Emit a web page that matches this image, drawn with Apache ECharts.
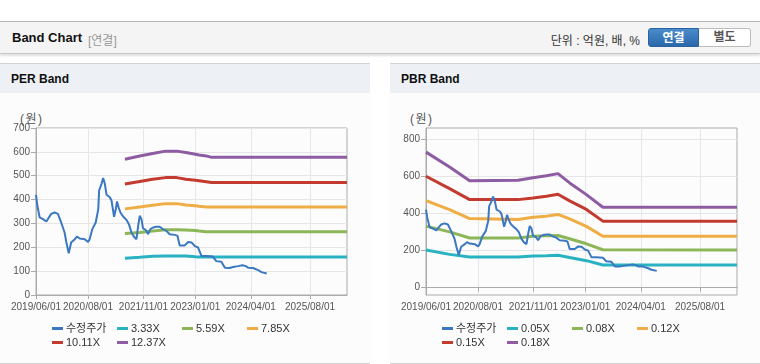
<!DOCTYPE html>
<html>
<head>
<meta charset="utf-8">
<script src="https://cdn.jsdelivr.net/npm/echarts@6/dist/echarts.min.js"></script>
<style>
  html, body { margin:0; padding:0; background:#fff; width:760px; height:364px; overflow:hidden;
    font-family:"Liberation Sans","Noto Sans CJK KR",sans-serif; }
  .topbar { position:absolute; left:0; top:21px; width:760px; height:31px; background:#f4f4f4;
    border-top:1px solid #b5b5b5; border-bottom:1px solid #c8c8c8; box-shadow:0 2px 2px rgba(0,0,0,0.12); }
  .title { position:absolute; left:12px; top:8px; font-size:13px; font-weight:bold; color:#111; }
  .sub { position:absolute; left:88px; top:9px; font-size:12px; color:#999; }
  .unit { position:absolute; right:120px; top:9px; font-size:12px; color:#333; }
  .btn1 { position:absolute; left:648px; top:6px; width:51px; height:19px; border-radius:3px 0 0 3px;
    background:linear-gradient(#4a8bcb,#2a68aa); color:#fff; font-size:12px; font-weight:bold;
    text-align:center; line-height:19px; border:1px solid #2a62a0; box-sizing:border-box; }
  .btn2 { position:absolute; left:699px; top:6px; width:52px; height:19px; border-radius:0 3px 3px 0;
    background:#fff; color:#555; font-size:12px; font-weight:bold; text-align:center; line-height:17px;
    border:1px solid #bdbdbd; border-left:none; box-sizing:border-box; }
  .panel { position:absolute; top:63px; width:370px; height:299px; background:#fcfcfc;
    border-top:1px solid #d3d3d3; border-bottom:1px solid #d3d3d3; }
  .phead { position:absolute; left:0; top:0; width:100%; height:29px; background:#edf1f6; }
  .ptitle { position:absolute; left:11px; top:8px; font-size:12px; font-weight:bold; color:#111; }
  .unitw { position:absolute; top:45px; font-size:12px; color:#555; letter-spacing:1.5px; }
  .chart { position:absolute; top:0; width:370px; height:364px; }
</style>
</head>
<body>
<div class="topbar">
  <div class="title">Band Chart</div>
  <div class="sub">[연결]</div>
  <div class="unit">단위 : 억원, 배, %</div>
  <div class="btn1">연결</div>
  <div class="btn2">별도</div>
</div>
<div class="panel" style="left:0">
  <div class="phead"><div class="ptitle">PER Band</div></div>
  <div class="unitw" style="left:20px">(원)</div>
</div>
<div class="panel" style="left:390px">
  <div class="phead"><div class="ptitle">PBR Band</div></div>
  <div class="unitw" style="left:20px">(원)</div>
</div>
<div id="per" class="chart" style="left:0"></div>
<div id="pbr" class="chart" style="left:390px"></div>
<script>
// ---- data ----
const xTickDates = ['2019-06-01','2020-08-01','2021-11-01','2023-01-01','2024-04-01','2025-08-01'];
const xMin = '2019-06-01';
const xMax = '2026-06-01';
const perYTicks = [0,100,200,300,400,500,600,700];
const pbrYTicks = [0,200,400,600,800];

const priceName = '수정주가';
const priceDates = ['2019-06-01','2019-06-12','2019-07-01','2019-07-28','2019-08-25','2019-09-07','2019-10-04','2019-11-01','2019-11-28','2019-12-25',
  '2020-01-22','2020-02-06','2020-02-25','2020-03-16','2020-04-15','2020-05-03','2020-05-25','2020-07-06','2020-08-02','2020-08-15',
  '2020-09-06','2020-10-04','2020-10-25','2020-11-01','2020-11-21','2020-12-04','2020-12-18','2021-01-01','2021-01-28','2021-02-11',
  '2021-03-04','2021-03-16','2021-03-28','2021-04-10','2021-04-25','2021-05-16','2021-06-13','2021-07-04','2021-07-25','2021-08-13',
  '2021-09-04','2021-09-18','2021-10-01','2021-10-15','2021-10-28','2021-11-19','2021-12-09','2021-12-28','2022-01-19','2022-02-15',
  '2022-03-13','2022-04-10','2022-05-07','2022-06-04','2022-07-16','2022-08-07','2022-08-25','2022-10-06','2022-11-03','2022-12-01',
  '2022-12-28','2023-01-24','2023-02-21','2023-04-01','2023-05-25','2023-06-22','2023-08-03','2023-09-01','2023-10-10','2023-11-07',
  '2023-12-19','2024-01-24','2024-02-21','2024-03-10','2024-04-19','2024-06-01','2024-06-28','2024-08-10'];
const priceValues = [420,375,325,318,308,311,340,346,340,304,
  262,220,175,220,234,245,237,234,222,234,
  276,304,360,438,466,490,466,420,410,396,
  328,354,392,368,346,330,315,297,262,245,
  234,290,332,318,279,273,255,276,283,286,
  286,276,269,255,252,248,208,208,222,220,
  205,199,163,163,161,142,139,114,113,117,
  121,125,121,114,113,104,96,90];

const perBandDates = ['2021-06-01','2021-10-01','2022-01-15','2022-05-01','2022-08-01','2022-10-15','2023-01-01','2023-02-01','2023-04-01','2023-05-15','2026-06-01'];
const perNames = ['3.33X','5.59X','7.85X','10.11X','12.37X'];
const per333  = [154,158,162,163,163,163,160,159,159,159,159];
const per559  = [258,262,268,273,273,272,270,268,265,265,265];
const per785  = [361,369,376,383,383,377,374,372,369,369,369];
const per1011 = [465,476,485,492,492,485,481,479,475,472,472];
const per1237 = [569,583,593,603,603,597,590,587,583,577,577];

const pbrBandDates = ['2019-06-01','2019-12-12','2020-05-25','2021-06-27','2021-10-28','2022-02-15','2022-05-21','2022-08-25','2023-01-10','2023-05-25','2026-06-01'];
const pbrNames = ['0.05X','0.08X','0.12X','0.15X','0.18X'];
const pbr005 = [202,179,165,165,170,172,174,162,145,122,122];
const pbr008 = [331,300,267,267,277,279,281,263,236,204,202];
const pbr012 = [469,420,372,367,379,385,394,370,330,277,277];
const pbr015 = [600,533,474,474,483,492,503,467,421,358,358];
const pbr018 = [730,650,576,578,592,603,614,564,501,433,433];

// ---- styling ----
const priceColor = '#3b78c2';
const bandColors = ['#29b2c2','#8cb657','#f0ad45','#c33a2f','#8e5ca2'];
const FONT = '"Liberation Sans","Noto Sans CJK KR",sans-serif';

function ts(d){ const p = d.split('-').map(Number); return Date.UTC(p[0], p[1]-1, p[2]); }
function fmt(v){ const d = new Date(v); const m = d.getUTCMonth()+1, dd = d.getUTCDate();
  return d.getUTCFullYear() + '/' + (m<10?'0':'') + m + '/' + (dd<10?'0':'') + dd; }
function pairs(dates, vals){ return dates.map((d,i)=>[ts(d), vals[i]]); }

function buildOption(bandNames, bandDates, bandVals, yMin, yMax, yTicks){
  const series = [{
    name: priceName, type:'line', data: pairs(priceDates, priceValues), showSymbol:false,
    lineStyle:{ width:2, color:priceColor }, itemStyle:{ color:priceColor }, z:10
  }];
  bandNames.forEach((n,i)=>{
    series.push({ name:n, type:'line', data: pairs(bandDates, bandVals[i]), showSymbol:false,
      lineStyle:{ width:3, color:bandColors[i] }, itemStyle:{ color:bandColors[i] }, z:5 });
  });
  const allNames = [priceName].concat(bandNames);
  const colX = [52, 117, 182, 247];
  const legends = allNames.map((n,i)=>({
    data:[n], left: colX[i%4], top: i < 4 ? 323 : 337, padding:0,
    icon:'rect', itemWidth:11, itemHeight:3, itemGap:0,
    textStyle:{ fontSize:11, color:'#333', fontFamily:FONT, padding:[0,0,0,-2] },
    selectedMode:false
  }));
  const tickTimes = xTickDates.map(ts);
  return {
    animation:false,
    textStyle:{ fontFamily:FONT },
    grid:{ left:36, top:128, width:311, height:167, show:true, borderColor:'#ababab', borderWidth:1, backgroundColor:'transparent' },
    legend: legends,
    xAxis:{
      type:'value', min: ts(xMin), max: ts(xMax),
      axisLine:{ lineStyle:{ color:'#ababab' } },
      axisTick:{ show:true, length:4, lineStyle:{ color:'#ababab' }, customValues: tickTimes },
      axisLabel:{ customValues: tickTimes, fontSize:10, color:'#555', margin:7, fontFamily:FONT, formatter: fmt },
      splitLine:{ show:true, lineStyle:{ color:'#e6e6e6' } }
    },
    yAxis:{
      type:'value', min:yMin, max:yMax,
      axisLine:{ show:true, lineStyle:{ color:'#ababab' } },
      axisTick:{ show:true, length:5, lineStyle:{ color:'#ababab' }, customValues:yTicks },
      axisLabel:{ customValues:yTicks, fontSize:10, color:'#555', margin:6, fontFamily:FONT },
      splitLine:{ show:true, lineStyle:{ color:'#e6e6e6' } }
    },
    series
  };
}

const perChart = echarts.init(document.getElementById('per'), null, {renderer:'canvas'});
perChart.setOption(buildOption(perNames, perBandDates, [per333,per559,per785,per1011,per1237], 0, 700, perYTicks));
const pbrChart = echarts.init(document.getElementById('pbr'), null, {renderer:'canvas'});
pbrChart.setOption(buildOption(pbrNames, pbrBandDates, [pbr005,pbr008,pbr012,pbr015,pbr018], -40, 860, pbrYTicks));
</script>
</body>
</html>
